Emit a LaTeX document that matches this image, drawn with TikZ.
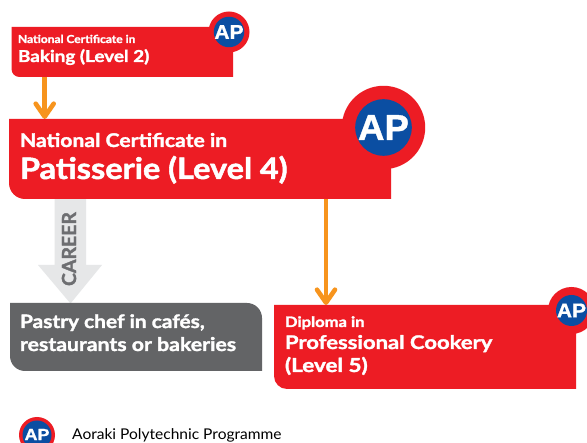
\documentclass[tikz,border=0pt]{standalone}
\usepackage{fontspec}
\setmainfont{Lato}[BoldFont=Lato Bold,BoldFeatures={FakeBold=1.6}]
\newfontfamily\apfont{Liberation Sans}[BoldFont=Liberation Sans Bold,BoldFeatures={FakeBold=1}]
\usetikzlibrary{arrows.meta}
\definecolor{apred}{HTML}{ED1C24}
\definecolor{apblue}{HTML}{0B4EA2}
\definecolor{aporange}{HTML}{F7941D}
\definecolor{apgrey}{HTML}{636466}
\definecolor{aplight}{HTML}{E6E7E8}
\definecolor{apcareer}{HTML}{6D6E71}
\tikzset{
  boxshape/.style={rectangle,inner sep=0pt,outer sep=0pt,minimum width=#1},
  boxh/.style={minimum height=#1},
  label/.style={anchor=base west,inner sep=0pt,outer sep=0pt,text=white},
  orangearrow/.style={draw=aporange,line width=#1,line cap=round,-{Straight Barb[length=13pt,width=18pt,round]}},
  ringred/.style={circle,fill=apred,inner sep=0pt,minimum size=#1},
  ringblue/.style={circle,fill=apblue,inner sep=0pt,minimum size=#1},
  aplabel/.style={inner sep=0pt,outer sep=0pt,text=white},
}
\newcommand{\aptext}[2]{\scalebox{#2}[1]{\apfont\bfseries\fontsize{#1}{#1}\selectfont AP}}
\newcommand{\widetxt}[3]{\scalebox{#2}[1]{\bfseries\fontsize{#1}{#1}\selectfont #3}}
\begin{document}
\begin{tikzpicture}[x=1pt,y=-1pt]
\useasboundingbox (0,0) rectangle (587,443);
\fill[white] (0,0) rectangle (587,443);
% box anchors
\node[boxshape=221.5pt,boxh=50pt] (baking) at (122.25,52) {};
\node[boxshape=382pt,boxh=80pt] (pat) at (200,159) {};
\node[boxshape=252pt,boxh=68pt] (chef) at (136,337) {};
\node[boxshape=302pt,boxh=84pt] (dip) at (425,347) {};
% connectors behind boxes
\draw[orangearrow=4.6pt] ([xshift=33.2pt]baking.south west) -- ([xshift=35.7pt]pat.north west);
\draw[orangearrow=4.6pt] ([xshift=317pt]pat.south west) -- ([xshift=52pt]dip.north west);
% career arrow
\fill[aplight] (54.7,199) -- (86,199) -- (86,265) -- (102,265) -- (70.5,303.5) -- (38,265) -- (54.7,265) -- cycle;
\node[rotate=90,inner sep=0pt,text=apcareer] (career) at (69,249) {\widetxt{19.5}{1}{CAREER}};
% boxes
\fill[apred] (baking.north west) -- (baking.north east) -- (baking.south east) [rounded corners=8pt] -- (baking.south west) [sharp corners] -- (baking.north west) -- cycle;
\fill[apred] (pat.north west) -- (pat.north east) -- (pat.south east) [rounded corners=16pt] -- (pat.south west) [sharp corners] -- (pat.north west) -- cycle;
\fill[apgrey] (chef.north west) [rounded corners=15pt] -- (chef.north east) [sharp corners] -- (chef.south east) [rounded corners=15pt] -- (chef.south west) [sharp corners] -- (chef.north west) -- cycle;
\fill[apred] (dip.north west) -- (dip.north east) -- (dip.south east) [rounded corners=13pt] -- (dip.south west) [sharp corners] -- (dip.north west) -- cycle;
% badges
\node[ringred=41pt] (b1) at (229,32) {};
\node[ringblue=30.5pt] (b1i) at (b1) {};
\node[aplabel] (b1t) at (b1) {\aptext{20}{1.05}};
\node[ringred=83.4pt] (b2) at (383.5,127.5) {};
\node[ringblue=56.6pt] (b2i) at (b2) {};
\node[aplabel] (b2t) at (b2) {\aptext{36}{1.02}};
\node[ringred=47pt] (b3) at (571.5,310.5) {};
\node[ringblue=31pt] (b3i) at (b3) {};
\node[aplabel] (b3t) at (b3) {\aptext{20}{1.05}};
\node[ringred=36pt] (b4) at (37,435) {};
\node[ringblue=29pt] (b4i) at (b4) {};
\node[aplabel] (b4t) at (37,434.5) {\aptext{16}{1.12}};
% texts
\node[label] (t1) at (18,43) {\widetxt{11}{1.09}{National Certificate in}};
\node[label] (t2) at (18,62) {\widetxt{16.4}{1.15}{Baking (Level 2)}};
\node[label] (t3) at (20,147) {\widetxt{18.9}{1.12}{National Certificate in}};
\node[label] (t4) at (20,179) {\widetxt{29.5}{1.1}{Patisserie (Level 4)}};
\node[label] (t5) at (20,328) {\widetxt{18.5}{1.13}{Pastry chef in cafés,}};
\node[label] (t6) at (20,351) {\widetxt{18.8}{1.13}{restaurants or bakeries}};
\node[label] (t7) at (285,327) {\widetxt{14.4}{1.15}{Diploma in}};
\node[label] (t8) at (285,349) {\widetxt{18.8}{1.17}{Professional Cookery}};
\node[label] (t9) at (285,372) {\widetxt{19.2}{1.17}{(Level 5)}};
\node[anchor=base west,inner sep=0pt] (t10) at (72,440) {\scalebox{1.05}[1]{\fontsize{14.8}{14.8}\selectfont Aoraki Polytechnic Programme}};
\end{tikzpicture}
\end{document}
